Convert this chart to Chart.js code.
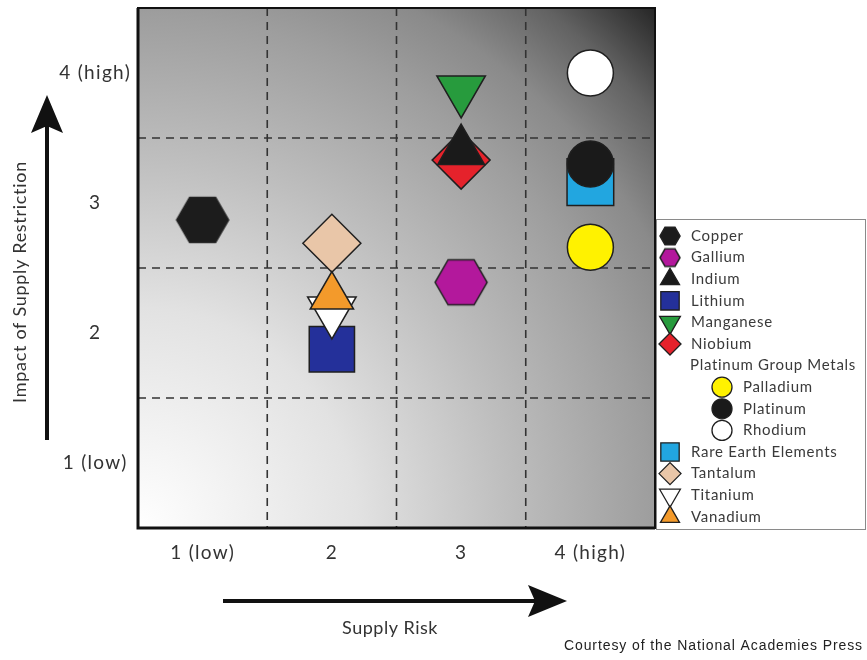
<!DOCTYPE html>
<html>
<head>
<meta charset="utf-8">
<script src="https://cdn.jsdelivr.net/npm/chart.js@4.4.0/dist/chart.umd.min.js"></script>
<style>
  html, body { margin: 0; padding: 0; background: #fff; }
  #wrap { width: 867px; height: 660px; position: relative; }
</style>
</head>
<body>
<div id="wrap"><canvas id="matrix" width="867" height="660"></canvas></div>
<script>
// Materials and their scores (supply risk, impact of supply restriction)
var materials = ["Copper", "Gallium", "Indium", "Lithium", "Manganese", "Niobium",
  "Palladium", "Platinum", "Rhodium", "Rare Earth Elements", "Tantalum", "Titanium", "Vanadium"];
var supplyRisk = [1, 3, 3, 2, 3, 3, 4, 4, 4, 4, 2, 2, 2];
var impact = [2.87, 2.39, 3.40, 1.875, 3.87, 3.33, 2.66, 3.30, 4.0, 3.16, 2.69, 2.17, 2.28];

// Legend grouping
var groupName = "Platinum Group Metals";
var groupMembers = ["Palladium", "Platinum", "Rhodium"];

// Axis ticks
var tickValues = [1, 2, 3, 4];
var tickLabels = ["1 (low)", "2", "3", "4 (high)"];
var gridValues = [1.5, 2.5, 3.5];

// Marker look for each material
var fills = ["#1c1c1c", "#b3189c", "#1a1a1a", "#24309a", "#279b3d", "#e5222b",
  "#fff200", "#1a1a1a", "#ffffff", "#22a6e0", "#e9c6a8", "#ffffff", "#f39a2b"];
var shapes = ["hex", "hex", "triangle", "rect", "triangleDown", "rectRot",
  "circle", "circle", "circle", "rect", "rectRot", "triangleDown", "triangle"];
var sizes = [26, 26, 27, 32, 28, 29, 23, 23, 23, 33, 29, 28, 25];
var legendSizes = [10, 10, 11, 13, 12, 11, 10, 10, 10, 13, 11, 12, 11];
var layer = [0, 0, 0, 3, 0, 0, 0, 0, 0, 0, 2, 1, 0];

var fontFamily = "Lato, 'Noto Sans', sans-serif";

function hexagon(r, fill) {
  var c = document.createElement("canvas");
  var w = Math.ceil(r * 2 + 4), h = Math.ceil(r * Math.sqrt(3) + 4);
  c.width = w;
  c.height = h;
  var g = c.getContext("2d");
  g.beginPath();
  for (var i = 0; i < 6; i++) {
    var a = Math.PI / 3 * i;
    g.lineTo(w / 2 + r * Math.cos(a), h / 2 + r * Math.sin(a));
  }
  g.closePath();
  g.fillStyle = fill;
  g.fill();
  g.lineWidth = 1.5;
  g.strokeStyle = "#222";
  g.stroke();
  return c;
}

function markerStyle(i, r) {
  if (shapes[i] === "hex") return { pointStyle: hexagon(r, fills[i]), rotation: 0 };
  if (shapes[i] === "triangleDown") return { pointStyle: "triangle", rotation: 180 };
  return { pointStyle: shapes[i], rotation: 0 };
}

var datasets = materials.map(function (name, i) {
  var s = markerStyle(i, sizes[i]);
  return {
    label: name,
    data: [{ x: supplyRisk[i], y: impact[i] }],
    pointStyle: s.pointStyle,
    rotation: s.rotation,
    pointRadius: sizes[i],
    pointHoverRadius: sizes[i],
    backgroundColor: fills[i],
    borderColor: "#1f1f1f",
    borderWidth: 1.5,
    pointHoverBorderWidth: 1.5,
    order: layer[i]
  };
});

// the tick labels in the original are loosely spaced
var tickSpacing = {
  id: "tickSpacing",
  beforeLayout: function (chart) { chart.ctx.letterSpacing = "1.3px"; },
  beforeDraw: function (chart) { chart.ctx.letterSpacing = "1.3px"; }
};

// gradient background, dashed grid and frame
var plotBackground = {
  id: "plotBackground",
  beforeDatasetsDraw: function (chart) {
    var ctx = chart.ctx, a = chart.chartArea;
    var xs = chart.scales.x, ys = chart.scales.y;
    ctx.save();
    var diag = Math.sqrt(a.width * a.width + a.height * a.height);
    var g = ctx.createRadialGradient(a.left, a.bottom, 0, a.left, a.bottom, diag);
    g.addColorStop(0, "#ffffff");
    g.addColorStop(0.3, "#e2e2e2");
    g.addColorStop(0.5, "#bfbfbf");
    g.addColorStop(0.7, "#9e9e9e");
    g.addColorStop(0.8, "#8a8a8a");
    g.addColorStop(0.9, "#626262");
    g.addColorStop(1, "#262626");
    ctx.fillStyle = g;
    ctx.fillRect(a.left, a.top, a.width, a.height);

    ctx.strokeStyle = "#333";
    ctx.lineWidth = 1.6;
    ctx.setLineDash([8, 6]);
    gridValues.forEach(function (v) {
      var px = xs.getPixelForValue(v);
      ctx.beginPath();
      ctx.moveTo(px, a.top);
      ctx.lineTo(px, a.bottom);
      ctx.stroke();
      var py = ys.getPixelForValue(v);
      ctx.beginPath();
      ctx.moveTo(a.left, py);
      ctx.lineTo(a.right, py);
      ctx.stroke();
    });
    ctx.setLineDash([]);
    ctx.strokeStyle = "#111";
    ctx.lineWidth = 2;
    ctx.strokeRect(a.left, a.top, a.width, a.height);
    ctx.lineWidth = 3;
    ctx.beginPath();
    ctx.moveTo(a.left, a.top);
    ctx.lineTo(a.left, a.bottom);
    ctx.lineTo(a.right, a.bottom);
    ctx.stroke();
    ctx.restore();
  }
};

// arrows, axis titles and credit line
var axisArrows = {
  id: "axisArrows",
  afterDraw: function (chart) {
    var ctx = chart.ctx;
    ctx.save();
    ctx.fillStyle = "#111";
    ctx.strokeStyle = "#111";
    ctx.lineWidth = 4;
    // vertical arrow
    ctx.beginPath();
    ctx.moveTo(47, 440);
    ctx.lineTo(47, 125);
    ctx.stroke();
    ctx.beginPath();
    ctx.moveTo(47, 95);
    ctx.lineTo(63, 133);
    ctx.lineTo(47, 126);
    ctx.lineTo(31, 133);
    ctx.closePath();
    ctx.fill();
    // horizontal arrow
    ctx.beginPath();
    ctx.moveTo(223, 601);
    ctx.lineTo(540, 601);
    ctx.stroke();
    ctx.beginPath();
    ctx.moveTo(567, 601);
    ctx.lineTo(528, 585);
    ctx.lineTo(535, 601);
    ctx.lineTo(528, 617);
    ctx.closePath();
    ctx.fill();

    ctx.fillStyle = "#333";
    ctx.font = "18px " + fontFamily;
    ctx.textAlign = "center";
    ctx.textBaseline = "middle";
    ctx.letterSpacing = "0.5px";
    ctx.fillText("Supply Risk", 390, 628);
    ctx.letterSpacing = "0.7px";
    ctx.translate(20, 282);
    ctx.rotate(-Math.PI / 2);
    ctx.fillText("Impact of Supply Restriction", 0, 0);
    ctx.restore();

    ctx.save();
    ctx.fillStyle = "#222";
    ctx.font = "14px 'Liberation Sans', Arial, sans-serif";
    ctx.letterSpacing = "0.9px";
    ctx.textAlign = "right";
    ctx.textBaseline = "middle";
    ctx.fillText("Courtesy of the National Academies Press", 863, 646);
    ctx.restore();
  }
};

// boxed legend with the platinum group indented
var groupedLegend = {
  id: "groupedLegend",
  afterDraw: function (chart) {
    var ctx = chart.ctx;
    var rows = [];
    materials.forEach(function (name, i) {
      var inGroup = groupMembers.indexOf(name) >= 0;
      if (inGroup && name === groupMembers[0]) rows.push({ header: groupName });
      rows.push({ index: i, indent: inGroup });
    });
    var left = 656, top = 219, right = 866, bottom = 530;
    var y0 = 236, step = 21.6;
    ctx.save();
    ctx.fillStyle = "#fff";
    ctx.fillRect(left, top, right - left, bottom - top);
    ctx.strokeStyle = "#8a8a8a";
    ctx.lineWidth = 1;
    ctx.strokeRect(left + 0.5, top + 0.5, right - left - 1, bottom - top - 1);
    ctx.font = "15px " + fontFamily;
    ctx.letterSpacing = "0.7px";
    ctx.textBaseline = "middle";
    ctx.textAlign = "left";
    rows.forEach(function (row, k) {
      var y = y0 + k * step;
      if (row.header) {
        ctx.fillStyle = "#3a3a3a";
        ctx.fillText(row.header, 690, y);
        return;
      }
      var i = row.index;
      var mx = row.indent ? 722 : 670;
      var r = legendSizes[i];
      var s = markerStyle(i, r);
      ctx.fillStyle = fills[i];
      ctx.strokeStyle = "#1f1f1f";
      ctx.lineWidth = 1.3;
      Chart.helpers.drawPoint(ctx, {
        pointStyle: s.pointStyle,
        rotation: s.rotation,
        radius: r,
        borderWidth: 1.3
      }, mx, y);
      ctx.fillStyle = "#3a3a3a";
      ctx.fillText(materials[i], mx + 21, y);
    });
    ctx.restore();
  }
};

var tickFont = { family: fontFamily, size: 19 };

var ctx = document.getElementById("matrix").getContext("2d");
var matrixChart = new Chart(ctx, {
  type: "scatter",
  data: { datasets: datasets },
  options: {
    responsive: false,
    animation: false,
    devicePixelRatio: 1,
    layout: { autoPadding: false, padding: { top: 8, right: 212, left: 0, bottom: 0 } },
    plugins: {
      legend: { display: false },
      tooltip: { enabled: false }
    },
    scales: {
      x: {
        type: "linear",
        min: 0.5,
        max: 4.5,
        afterBuildTicks: function (axis) {
          axis.ticks = tickValues.map(function (v) { return { value: v }; });
        },
        afterFit: function (axis) {
          axis.height = 132;
          axis.paddingLeft = 0;
          axis.paddingRight = 0;
        },
        ticks: {
          callback: function (v) { return tickLabels[tickValues.indexOf(v)]; },
          font: tickFont,
          color: "#333",
          padding: 13,
          maxRotation: 0,
          autoSkip: false
        },
        grid: { display: false, drawTicks: false },
        border: { display: false }
      },
      y: {
        type: "linear",
        min: 0.5,
        max: 4.5,
        afterBuildTicks: function (axis) {
          axis.ticks = tickValues.map(function (v) { return { value: v }; });
        },
        afterFit: function (axis) {
          axis.width = 138;
          axis.paddingTop = 0;
          axis.paddingBottom = 0;
        },
        ticks: {
          callback: function (v) { return tickLabels[tickValues.indexOf(v)]; },
          font: tickFont,
          color: "#333",
          padding: 7,
          crossAlign: "center",
          autoSkip: false
        },
        grid: { display: false, drawTicks: false },
        border: { display: false }
      }
    }
  },
  plugins: [tickSpacing, plotBackground, axisArrows, groupedLegend]
});
</script>
</body>
</html>
